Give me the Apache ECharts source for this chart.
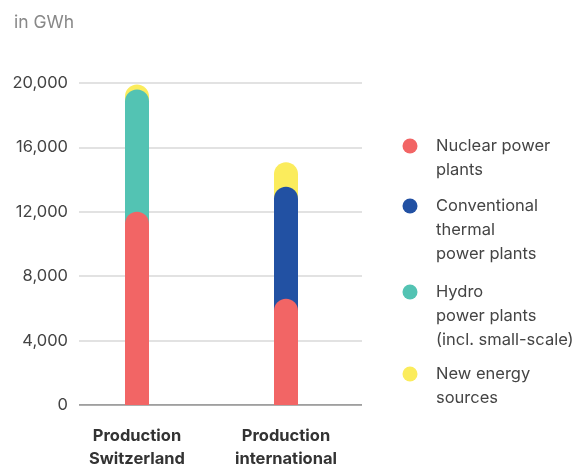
<!DOCTYPE html>
<html>
<head>
<meta charset="utf-8">
<script src="https://cdn.jsdelivr.net/npm/echarts@6/dist/echarts.min.js"></script>
<style>html,body{margin:0;padding:0;background:#fff;}#c{width:574px;height:467px;}</style>
</head>
<body>
<div id="c"></div>
<script>
// ---- data (GWh) ----
const categories = ['Production\nSwitzerland', 'Production\ninternational'];
const seriesNames = ['Nuclear power\nplants', 'Conventional\nthermal\npower plants', 'Hydro\npower plants\n(incl. small-scale)', 'New energy\nsources'];
const nuclear = [12000, 6600];
const conventional = [0, 6950];
const hydro = [7600, 0];
const newEnergy = [300, 1530];
const yMin = 0, yMax = 20000, yStep = 4000;
const unitLabel = 'in GWh';

const colors = ['#F26565', '#2251A3', '#53C3B3', '#FBEC5C'];
const FONT = 'Inter';

// cumulative tops (each segment drawn as an overlapping bar from 0 to its cumulative total)
const raw = [nuclear, conventional, hydro, newEnergy];
const cum = raw.map((arr, si) => arr.map((v, i) => {
  let s = 0; for (let k = 0; k <= si; k++) s += raw[k][i];
  return v > 0 ? s : null;
}));

const chart = echarts.init(document.getElementById('c'), null, {renderer: 'canvas'});

// series drawn back-to-front: New energy behind, nuclear in front
const order = [3, 2, 1, 0];
const series = order.map(si => ({
  name: seriesNames[si],
  type: 'bar',
  xAxisIndex: 1,
  yAxisIndex: 1,
  barWidth: 24,
  barGap: '-100%',
  data: cum[si].map((v, i) => ({value: v, raw: raw[si][i]})),
  itemStyle: {color: colors[si], borderRadius: [12, 12, 0, 0]},
  emphasis: {disabled: true}
}));

const legendTops = [110, 146, 232, 338];
const legends = seriesNames.map((n, i) => {
  const lines = n.split('\n').length;
  return {
    data: [n],
    orient: 'vertical',
    left: 402.5,
    top: legendTops[i],
    padding: 0,
    icon: 'circle',
    itemWidth: 15,
    itemHeight: 15,
    selectedMode: false,
    // leading blank lines so the first text line sits level with the marker
    formatter: name => '\n'.repeat(lines - 1) + name,
    textStyle: {
      fontFamily: FONT, fontSize: 16.5, color: '#444', lineHeight: 24,
      padding: [0, 0, 0, 13.5]
    }
  };
});

chart.setOption({
  animation: false,
  color: colors,
  graphic: [{
    type: 'text', left: 14, top: 14,
    style: {text: unitLabel, fontFamily: FONT, fontSize: 17.5, fill: '#888'}
  }],
  legend: legends,
  grid: [
    {left: 79, right: 212, top: 83, bottom: 62, outerBoundsMode: 'none', containLabel: false},
    {left: 62.5, width: 298, top: 83, bottom: 62, outerBoundsMode: 'none', containLabel: false}
  ],
  xAxis: [
    {gridIndex: 0, type: 'value', show: false, min: 0, max: 1},
    {
      gridIndex: 1, type: 'category', data: categories,
      axisLine: {show: false}, axisTick: {show: false},
      axisLabel: {fontFamily: FONT, fontSize: 16.5, fontWeight: 'bold', color: '#333', lineHeight: 23, margin: 20}
    }
  ],
  yAxis: [
    {
      gridIndex: 0, type: 'value', min: yMin, max: yMax, interval: yStep,
      axisLine: {show: false}, axisTick: {show: false},
      axisLabel: {fontFamily: FONT, fontSize: 16.5, color: '#444', margin: 11,
        formatter: v => v.toLocaleString('en-US')},
      splitLine: {lineStyle: {color: '#d9d9d9', width: 1.5}}
    },
    {gridIndex: 1, type: 'value', min: yMin, max: yMax, interval: yStep, show: false, splitLine: {show: false}}
  ],
  series: series.concat([{
    type: 'line', xAxisIndex: 0, yAxisIndex: 0, data: [[0, 0], [1, 0]],
    symbol: 'none', silent: true, lineStyle: {color: '#888', width: 1.5}, z: 1
  }]),
  tooltip: {
    trigger: 'item',
    formatter: p => p.seriesName.replace(/\n/g, ' ') + ': ' + (p.data.raw || 0).toLocaleString('en-US') + ' GWh'
  }
});
</script>
</body>
</html>
